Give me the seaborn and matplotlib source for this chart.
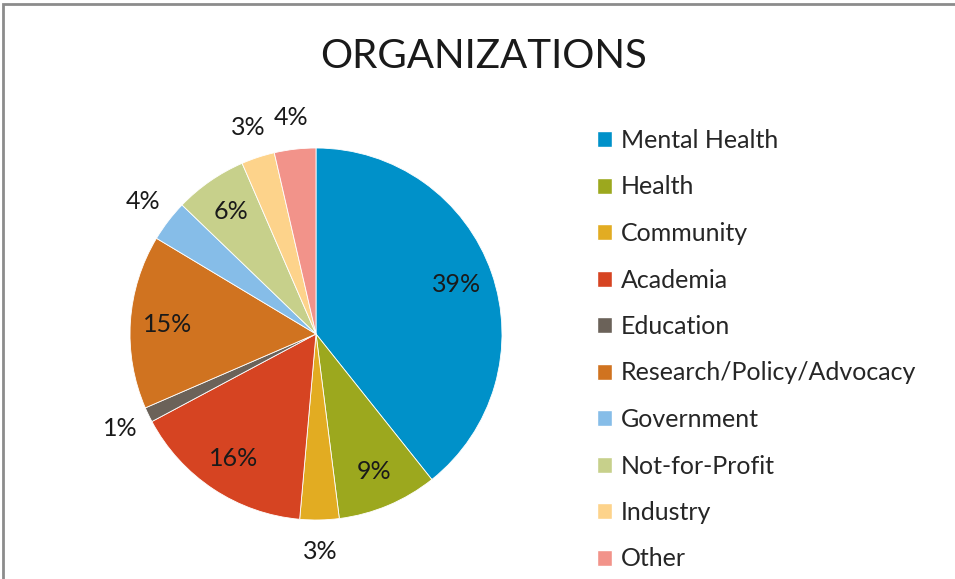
import numpy as np
import matplotlib
matplotlib.use("Agg")
import matplotlib.pyplot as plt
import seaborn as sns
from matplotlib.patches import Rectangle

# data (share of organisations, %)
categories = ["Mental Health", "Health", "Community", "Academia", "Education",
              "Research/Policy/Advocacy", "Government", "Not-for-Profit",
              "Industry", "Other"]
shares = [39.3, 8.7, 3.4, 15.8, 1.3, 15.1, 3.6, 6.3, 2.9, 3.6]
colors = ["#0091C9", "#9CA81E", "#E2AC22", "#D64422", "#6B6259",
          "#D07320", "#86BDE8", "#C7D08B", "#FDD38B", "#F2938A"]
# labels that Excel put outside the pie
outside = [False, False, True, False, True, False, True, False, True, True]

sns.set_theme(style="white")
plt.rcParams["font.family"] = ["Lato", "DejaVu Sans"]

fig = plt.figure(figsize=(9.55, 5.79), dpi=100)
lim = 1.3
r_px = 186
side = 2 * lim * r_px
cx, cy = 316, 334
ax = fig.add_axes([(cx - side / 2) / 955, (579 - cy - side / 2) / 579,
                   side / 955, side / 579])

wedges, texts, autotexts = ax.pie(
    shares, colors=colors, startangle=90, counterclock=False,
    autopct="%.0f%%", pctdistance=0.8,
    wedgeprops=dict(edgecolor="white", linewidth=0.6),
    textprops=dict(fontsize=18, color="#1a1a1a"))

for w, t, out in zip(wedges, autotexts, outside):
    if out:
        ang = np.deg2rad((w.theta1 + w.theta2) / 2)
        t.set_position((1.17 * np.cos(ang), 1.17 * np.sin(ang)))

ax.set_xlim(-lim, lim)
ax.set_ylim(-lim, lim)
ax.set_aspect("equal")
ax.axis("off")

fig.text(484 / 955, 1 - 57 / 579, "ORGANIZATIONS", ha="center", va="center",
         fontsize=29, color="#1a1a1a")

handles = [Rectangle((0, 0), 1, 1, facecolor=c) for c in colors]
fig.legend(handles, categories, loc="upper left",
           bbox_to_anchor=(587 / 955, 1 - 119 / 579), frameon=False,
           fontsize=18, handlelength=0.6, handleheight=0.6,
           handletextpad=0.35, labelspacing=0.94, borderaxespad=0)

# chart frame, cut off at the right and bottom like the screenshot
fig.patches.append(Rectangle((3 / 955, -0.1), 1.2, 1.1 - 4 / 579,
                             transform=fig.transFigure, fill=False,
                             edgecolor="#8c8c8c", linewidth=2))

fig.savefig("out.png", dpi=100)
